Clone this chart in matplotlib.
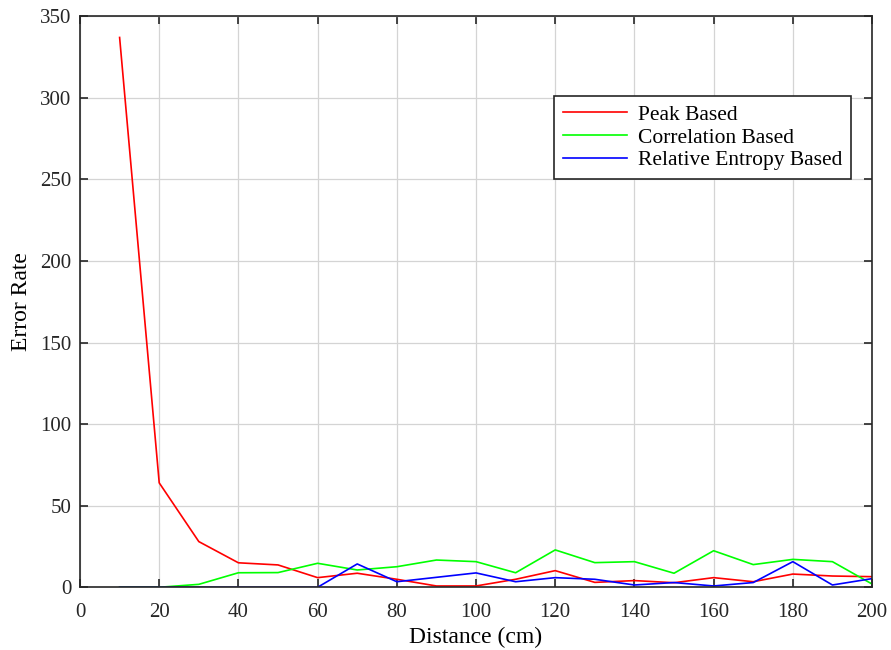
import matplotlib
matplotlib.use("Agg")
import matplotlib.pyplot as plt

distance = [10, 20, 30, 40, 50, 60, 70, 80, 90, 100, 110, 120, 130, 140, 150, 160, 170, 180, 190, 200]
peak = [337, 64, 28, 15, 13.7, 5.9, 8.6, 4.9, 0.8, 0.8, 4.9, 10.2, 3.0, 4.1, 2.8, 5.9, 3.4, 8.1, 6.9, 6.5]
corr = [0, 0, 1.8, 8.9, 9.0, 14.7, 10.6, 12.6, 16.7, 15.7, 8.9, 22.9, 15.1, 15.7, 8.6, 22.4, 13.9, 17.1, 15.7, 2.0]
entropy = [0, 0, 0, 0, 0, 0, 14.3, 3.4, 6.1, 8.8, 3.4, 5.9, 4.9, 1.4, 2.9, 0.8, 2.9, 15.7, 1.4, 5.3]

plt.rcParams['font.family'] = ['Liberation Serif', 'DejaVu Serif']

fig = plt.figure(figsize=(8.91, 6.5), dpi=100)
ax = fig.add_axes([0.0898, 0.0965, 0.8889, 0.8785])

ax.plot(distance, peak, color='#ff0000', lw=1.2, label='Peak Based')
ax.plot(distance, corr, color='#00ff00', lw=1.2, label='Correlation Based')
ax.plot(distance, entropy, color='#0000ff', lw=1.2, label='Relative Entropy Based')

ax.set_xlim(0, 200)
ax.set_ylim(0, 350)
ax.set_xticks(range(0, 201, 20))
ax.set_yticks(range(0, 351, 50))
ax.grid(True, color='#d4d4d4', lw=0.9)
ax.tick_params(direction='in', top=True, right=True, labelsize=15, length=6, width=1.2, colors='#262626')
ax.tick_params(axis='x', pad=11)
ax.tick_params(axis='y', pad=6)
for s in ax.spines.values():
    s.set_color('#262626')
    s.set_linewidth(1.2)
ax.set_xlabel('Distance (cm)', fontsize=17, labelpad=4)
ax.set_ylabel('Error Rate', fontsize=17, labelpad=6)

leg = ax.legend(loc='upper right', bbox_to_anchor=(0.9735, 0.86), borderaxespad=0,
                fontsize=15.5, fancybox=False, framealpha=1, edgecolor='#262626',
                handlelength=3.0, borderpad=0.4, labelspacing=0.12, handletextpad=0.5)
leg.get_frame().set_linewidth(1.2)

fig.savefig('out.png', dpi=100)
